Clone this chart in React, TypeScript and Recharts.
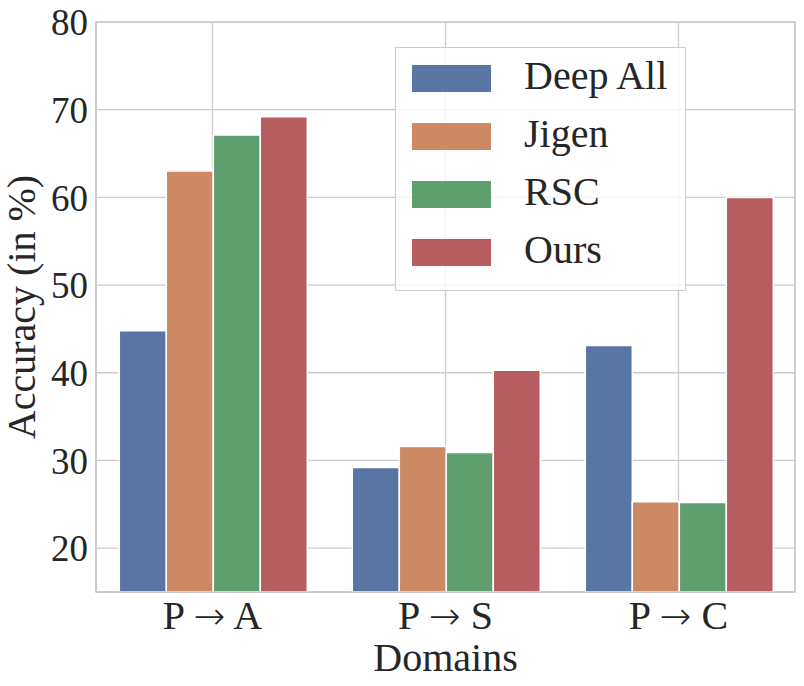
import React from 'react'
import { BarChart, Bar, XAxis, YAxis, CartesianGrid, ReferenceArea } from 'recharts'

const domains = ['P → A', 'P → S', 'P → C']
const deepAll = [44.8, 29.2, 43.1]
const jigen = [63.0, 31.6, 25.3]
const rsc = [67.1, 30.9, 25.2]
const ours = [69.2, 40.3, 60.0]
const yTicks = [20, 30, 40, 50, 60, 70, 80]

const series = [
  { key: 'deepAll', name: 'Deep All', color: '#5975a4' },
  { key: 'jigen', name: 'Jigen', color: '#cc8963' },
  { key: 'rsc', name: 'RSC', color: '#5f9e6e' },
  { key: 'ours', name: 'Ours', color: '#b55d60' },
]

const data = domains.map((d, i) => ({
  domain: d,
  deepAll: deepAll[i],
  jigen: jigen[i],
  rsc: rsc[i],
  ours: ours[i],
}))

const font = "'Liberation Serif', 'DejaVu Serif', serif"
const arrowFont = "'DejaVu Sans', sans-serif"
const textColor = '#262626'
const gridColor = '#cccccc'

// x tick: the arrow glyph comes from DejaVu Sans so it is long like the original
function DomainTick(props: any) {
  const { x, y, payload } = props
  const parts = String(payload.value).split('→')
  return (
    <text x={x} y={y + 37} textAnchor="middle" fontSize={40} fill={textColor} fontFamily={font} xmlSpace="preserve" style={{ whiteSpace: 'pre' }}>
      {parts[0]}
      <tspan fontFamily={arrowFont} fontWeight={200} fontSize={38}>→</tspan>
      {parts[1]}
    </text>
  )
}

// legend drawn as an overlay so the chart keeps its full plot height
function LegendBox() {
  return (
    <div
      style={{
        position: 'absolute',
        left: 395,
        top: 47,
        boxSizing: 'border-box',
        width: 291,
        height: 244,
        border: `1.5px solid ${gridColor}`,
        background: 'rgba(255,255,255,0.8)',
        padding: '17px 0 0 16px',
        fontFamily: font,
        fontSize: 40,
        color: textColor,
      }}
    >
      {series.map((s) => (
        <div key={s.key} style={{ position: 'relative', height: 58 }}>
          <div style={{ position: 'absolute', left: 0, top: 0, width: 79, height: 27, background: s.color }} />
          <span style={{ position: 'absolute', left: 112, top: -12, lineHeight: '46px', whiteSpace: 'nowrap' }}>{s.name}</span>
        </div>
      ))}
    </div>
  )
}

export default function App() {
  return (
    <div style={{ position: 'absolute', left: 0, top: 0, width: 804, height: 686, background: '#fff' }}>
      <BarChart
        width={804}
        height={686}
        data={data}
        margin={{ top: 22, right: 9, left: 0, bottom: 0 }}
        barCategoryGap="10%"
        barGap={0}
      >
        <CartesianGrid stroke={gridColor} strokeWidth={1.3} />
        <XAxis
          dataKey="domain"
          height={94}
          tickLine={false}
          tickSize={0}
          tickMargin={0}
          axisLine={{ stroke: gridColor, strokeWidth: 1.5 }}
          tick={<DomainTick />}
          label={{
            content: (props: any) => {
              const vb = props.viewBox
              return (
                <text x={vb.x + vb.width / 2} y={vb.y + 79} textAnchor="middle" fontSize={40} fill={textColor} fontFamily={font}>
                  Domains
                </text>
              )
            },
          }}
        />
        <YAxis
          width={96}
          domain={[15, 80]}
          ticks={yTicks}
          allowDataOverflow
          tickLine={false}
          tickSize={0}
          tickMargin={8}
          axisLine={{ stroke: gridColor, strokeWidth: 1.5 }}
          tick={{ fontSize: 37, fill: textColor, fontFamily: font }}
          label={{
            content: (props: any) => {
              const vb = props.viewBox
              const cx = vb.x + 35
              const cy = vb.y + vb.height / 2
              return (
                <text x={cx} y={cy} transform={`rotate(-90 ${cx} ${cy})`} textAnchor="middle" fontSize={40} fill={textColor} fontFamily={font}>
                  Accuracy (in %)
                </text>
              )
            },
          }}
        />
        <ReferenceArea y1={15} y2={80} fill="none" stroke={gridColor} strokeWidth={1.5} ifOverflow="visible" />
        {series.map((s) => (
          <Bar key={s.key} dataKey={s.key} name={s.name} fill={s.color} stroke="#ffffff" strokeWidth={1.5} isAnimationActive={false} />
        ))}
      </BarChart>
      <LegendBox />
    </div>
  )
}
